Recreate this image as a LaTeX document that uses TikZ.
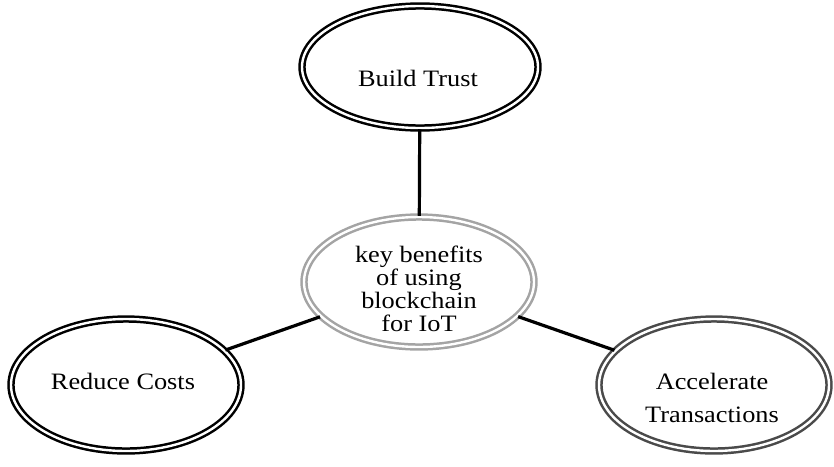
\documentclass[tikz,border=0pt]{standalone}
\usepackage{fontspec}
\setmainfont[FakeStretch=1.12]{Liberation Serif}
\usetikzlibrary{shapes.geometric}
\definecolor{ringgray}{HTML}{A4A4A4}
\definecolor{ringdark}{HTML}{4A4A4A}
\begin{document}
\begin{tikzpicture}[x=1pt,y=-1pt,
  ring/.style={ellipse,draw=black,line width=2.5pt,double=white,double distance=2.4pt,inner sep=0pt},
  lbl/.style={font=\fontsize{23.5}{23}\selectfont,align=center,inner sep=0pt},
  conn/.style={line width=3.2pt,black}]
\useasboundingbox (0,0) rectangle (834,466);
\node[ring,minimum width=236pt,minimum height=122pt] (bt) at (420,67) {};
\node[ring,draw=ringgray,minimum width=230pt,minimum height=130pt] (c) at (419,282) {};
\node[ring,minimum width=230pt,minimum height=132pt] (rc) at (126,385) {};
\node[ring,draw=ringdark,minimum width=230pt,minimum height=132pt] (at) at (714,385) {};
\draw[conn] (bt) -- (c);
\draw[conn] (c) -- (rc);
\draw[conn] (c) -- (at);
\node[lbl] (btt) at (418,78) {Build Trust};
\node[lbl] (ct) at (419,289) {key benefits\\of using\\blockchain\\for IoT};
\node[lbl] (rct) at (123,381) {Reduce Costs};
\node[lbl,font=\fontsize{23.5}{33}\selectfont] (att) at (712,398) {Accelerate\\Transactions};
\end{tikzpicture}
\end{document}
